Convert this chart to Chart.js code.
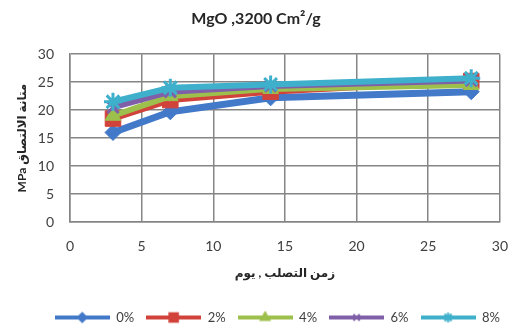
<!DOCTYPE html>
<html><head><meta charset="utf-8">
<script src="https://cdn.jsdelivr.net/npm/chart.js@4.4.1/dist/chart.umd.min.js"></script>
<style>html,body{margin:0;padding:0;background:#fff}</style>
</head><body>
<canvas id="c" width="524" height="327" style="width:524px;height:327px;display:block"></canvas>
<script>
// ---- data ----
const days = [3, 7, 14, 28];
const seriesLabels = ['0%', '2%', '4%', '6%', '8%'];
const s0 = [16.0, 19.7, 22.2, 23.3];
const s2 = [18.5, 21.8, 23.3, 25.2];
const s4 = [19.0, 22.5, 23.8, 24.5];
const s6 = [20.5, 23.3, 24.3, 25.3];
const s8 = [21.5, 24.0, 24.6, 25.7];
const chartTitle = 'MgO ,3200 Cm²/g';
const xTitle = 'زمن التصلب , يوم';
const yTitle = 'MPa متانة الالتصاق';

// ---- styles ----
const colors = ['#4279C9', '#D1423B', '#9DC04C', '#7F5FA8', '#3FB0CB'];
const markers = ['rectRot', 'rect', 'triangle', 'crossRot', 'star'];
const radii = [8, 11, 9, 8, 9];
const FONT = "Lato, 'DejaVu Sans', sans-serif";
const seriesValues = [s0, s2, s4, s6, s8];

function legendIcon(i) {
  const cv = document.createElement('canvas');
  cv.width = 55; cv.height = 14;
  const g = cv.getContext('2d');
  g.strokeStyle = colors[i]; g.fillStyle = colors[i];
  g.lineWidth = 4;
  g.beginPath(); g.moveTo(0, 7); g.lineTo(55, 7); g.stroke();
  g.lineWidth = 2;
  Chart.helpers.drawPoint(g, {pointStyle: markers[i], radius: radii[i] * 0.55, rotation: 0, borderWidth: 2}, 27.5, 7);
  return cv;
}

const datasets = seriesValues.map((vals, i) => ({
  label: seriesLabels[i],
  data: days.map((d, k) => ({x: d, y: vals[k]})),
  borderColor: colors[i],
  backgroundColor: colors[i],
  pointBackgroundColor: colors[i],
  pointBorderColor: colors[i],
  borderWidth: i === 0 ? 7 : 6,
  pointStyle: markers[i],
  pointRadius: radii[i],
  pointBorderWidth: (i >= 3) ? 3 : 1,
  order: 5 - i,
  tension: 0
}));

new Chart(document.getElementById('c'), {
  type: 'line',
  data: { datasets },
  options: {
    responsive: false,
    animation: false,
    devicePixelRatio: 1,
    layout: { padding: { left: 0, right: 12, top: 0, bottom: -7 } },
    plugins: {
      title: {
        display: true, text: chartTitle, color: '#262626',
        font: { family: FONT, size: 16, weight: 'bold' },
        padding: { top: 9, bottom: 26 }
      },
      legend: {
        position: 'bottom', align: 'end',
        labels: {
          usePointStyle: true, pointStyleWidth: 55,
          color: '#404040', font: { family: FONT, size: 13 }, padding: 12,
          generateLabels: (chart) => seriesLabels.map((t, i) => ({
            text: t, pointStyle: legendIcon(i), datasetIndex: i,
            fillStyle: colors[i], strokeStyle: colors[i], lineWidth: 0, fontColor: '#404040', hidden: false
          }))
        }
      },
      tooltip: { enabled: false }
    },
    scales: {
      x: {
        type: 'linear', min: 0, max: 30,
        ticks: { stepSize: 5, padding: 16, color: '#404040', font: { family: FONT, size: 14 } },
        grid: { color: '#858585', lineWidth: 1.5, drawTicks: false },
        border: { color: '#858585', width: 1.5 },
        title: { display: true, text: xTitle, color: '#262626',
          font: { family: FONT, size: 12, weight: 'bold' }, padding: { top: 0, bottom: 19 } },
        afterFit: (s) => { s.height = 77; }
      },
      y: {
        min: 0, max: 30,
        ticks: { stepSize: 5, padding: 16, color: '#404040', font: { family: FONT, size: 14 } },
        grid: { color: '#858585', lineWidth: 1.5, drawTicks: false },
        border: { color: '#858585', width: 1.5 },
        title: { display: true, text: yTitle, color: '#262626',
          font: { family: FONT, size: 12, weight: 'bold' }, padding: { top: 15, bottom: 0 } },
        afterFit: (s) => { s.width = 70; }
      }
    }
  }
});
</script>
</body></html>
